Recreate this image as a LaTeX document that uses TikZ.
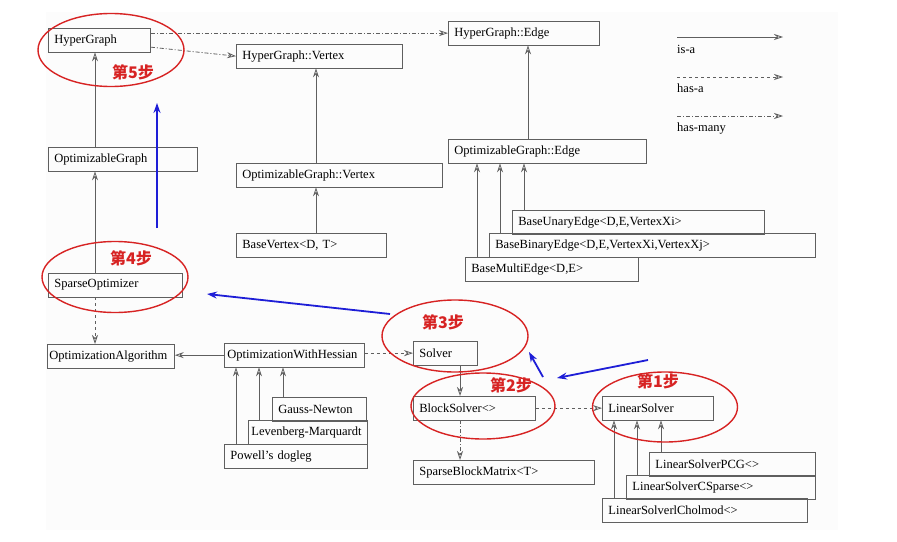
\documentclass[tikz,border=0pt]{standalone}
\usepackage{fontspec}
\setmainfont{Liberation Serif}
\newfontfamily\cjk{Noto Sans CJK SC}
\usetikzlibrary{arrows.meta,shapes.geometric}
\definecolor{umlgray}{RGB}{95,95,95}
\definecolor{stepred}{RGB}{215,35,35}
\definecolor{stepblue}{RGB}{30,30,215}
\definecolor{paper}{RGB}{252,252,252}

\tikzset{
  cls/.style={draw=umlgray, line width=0.8pt, anchor=north west, inner xsep=6pt,
    inner ysep=0pt, minimum height=23.5pt, align=left, font=\fontsize{12.5}{14}\selectfont},
  isa/.style={draw=umlgray, line width=0.8pt, -{Stealth[open,length=9pt,width=6pt,inset=3pt]}},
  hasa/.style={isa, dash pattern=on 3pt off 3pt},
  hasmany/.style={isa, dash pattern=on 4pt off 2pt on 1pt off 2pt},
  legendtext/.style={anchor=base west, inner sep=0pt, font=\fontsize{12.5}{14}\selectfont},
  stepring/.style={draw=stepred, line width=1.4pt, ellipse, inner sep=0pt},
  steplabel/.style={text=stepred, inner sep=0pt, font=\cjk\bfseries\fontsize{16}{18}\selectfont},
  flow/.style={draw=stepblue, line width=1.8pt, -{Stealth[length=10pt,width=7pt]}}
}

\begin{document}
\begin{tikzpicture}[x=1pt,y=-1pt]
  \useasboundingbox (0,0) rectangle (897,541);
  \fill[paper] (46,12) rectangle (838,530);

  % classes
  \node[cls, text width=90pt] (hg) at (48,28) {HyperGraph};
  \node[cls, text width=154pt] (hgv) at (236,44) {HyperGraph::Vertex};
  \node[cls, text width=139pt] (hge) at (448,21) {HyperGraph::Edge};
  \node[cls, text width=137pt] (og) at (48,147) {OptimizableGraph};
  \node[cls, text width=194pt] (ogv) at (236,163) {OptimizableGraph::Vertex};
  \node[cls, text width=186pt] (oge) at (448,139) {OptimizableGraph::Edge};
  \node[cls, text width=138pt] (bv) at (236,233) {BaseVertex<D, T>};
  \node[cls, text width=240pt] (bue) at (512,210) {BaseUnaryEdge<D,E,VertexXi>};
  \node[cls, text width=314pt] (bbe) at (489,233) {BaseBinaryEdge<D,E,VertexXi,VertexXj>};
  \node[cls, text width=161pt] (bme) at (465,257) {BaseMultiEdge<D,E>};
  \node[cls, text width=122pt] (so) at (48,273) {SparseOptimizer};
  \node[cls, inner xsep=2pt, text width=123pt] (oa) at (47,344) {OptimizationAlgorithm};
  \node[cls, inner xsep=3pt, text width=134pt] (owh) at (224,343) {OptimizationWithHessian};
  \node[cls, text width=82pt] (gn) at (272,397) {Gauss-Newton};
  \node[cls, inner xsep=3pt, text width=113pt] (lm) at (248,420) {Levenberg-Marquardt};
  \node[cls, text width=131pt] (pd) at (224,444) {Powell's dogleg};
  \node[cls, text width=52pt] (sv) at (413,341) {Solver};
  \node[cls, text width=110pt] (bs) at (413,396) {BlockSolver<>};
  \node[cls, text width=169pt] (sbm) at (413,460) {SparseBlockMatrix<T>};
  \node[cls, text width=99pt] (ls) at (602,396) {LinearSolver};
  \node[cls, text width=154pt] (lpcg) at (649,452) {LinearSolverPCG<>};
  \node[cls, text width=177pt] (lcs) at (626,475) {LinearSolverCSparse<>};
  \node[cls, text width=193pt] (lch) at (602,498) {LinearSolverlCholmod<>};

  % relations
  \draw[hasmany] (hge.west -| hg.east) -- (hge.west);
  \draw[hasmany] ([yshift=-7pt]hg.east) -- (hgv.west);
  \draw[isa] ([xshift=47pt]og.north west) -- ([xshift=47pt]hg.south west);
  \draw[isa] ([xshift=47pt]so.north west) -- ([xshift=47pt]og.south west);
  \draw[hasa] ([xshift=47pt]so.south west) -- ([xshift=48pt]oa.north west);
  \draw[isa] ([xshift=80pt]ogv.north west) -- ([xshift=80pt]hgv.south west);
  \draw[isa] ([xshift=80pt]bv.north west) -- ([xshift=80pt]ogv.south west);
  \draw[isa] ([xshift=80pt]oge.north west) -- ([xshift=80pt]hge.south west);
  \draw[isa] ([xshift=12pt]bme.north west) -- ([xshift=29pt]oge.south west);
  \draw[isa] ([xshift=11pt]bbe.north west) -- ([xshift=52pt]oge.south west);
  \draw[isa] ([xshift=12pt]bue.north west) -- ([xshift=76pt]oge.south west);
  \draw[isa] (owh.west) -- (owh.west -| oa.east);
  \draw[hasa] (sv.west -| owh.east) -- (sv.west);
  \draw[isa] ([xshift=12pt]pd.north west) -- ([xshift=12pt]owh.south west);
  \draw[isa] ([xshift=11pt]lm.north west) -- ([xshift=35pt]owh.south west);
  \draw[isa] ([xshift=11pt]gn.north west) -- ([xshift=59pt]owh.south west);
  \draw[isa] ([xshift=47pt]sv.south west) -- ([xshift=47pt]bs.north west);
  \draw[hasmany] ([xshift=47pt]bs.south west) -- ([xshift=47pt]sbm.north west);
  \draw[hasa] (bs.east) -- (ls.west);
  \draw[isa] ([xshift=12pt]lch.north west) -- ([xshift=12pt]ls.south west);
  \draw[isa] ([xshift=11pt]lcs.north west) -- ([xshift=35pt]ls.south west);
  \draw[isa] ([xshift=12pt]lpcg.north west) -- ([xshift=59pt]ls.south west);

  % legend
  \coordinate (isa0) at (677,37);
  \coordinate (isa1) at (783,37);
  \coordinate (hasa0) at (677,77);
  \coordinate (hasa1) at (783,77);
  \coordinate (many0) at (677,116);
  \coordinate (many1) at (783,116);
  \draw[isa] (isa0) -- (isa1);
  \draw[hasa] (hasa0) -- (hasa1);
  \draw[hasmany] (many0) -- (many1);
  \node[legendtext] (isalbl) at (677,53) {is-a};
  \node[legendtext] (hasalbl) at (677,92) {has-a};
  \node[legendtext] (manylbl) at (677,131) {has-many};

  % steps
  \node[stepring, minimum width=146pt, minimum height=73pt] (e5) at (111,50) {};
  \node[stepring, minimum width=146pt, minimum height=71pt] (e4) at (115,277) {};
  \node[stepring, minimum width=146pt, minimum height=72pt] (e3) at (455,336) {};
  \node[stepring, minimum width=144pt, minimum height=66pt] (e2) at (483,406) {};
  \node[stepring, minimum width=145pt, minimum height=70pt] (e1) at (665,407) {};
  \node[steplabel] (s5) at (133,72) {第5步};
  \node[steplabel] (s4) at (131,258) {第4步};
  \node[steplabel] (s3) at (443,322) {第3步};
  \node[steplabel] (s2) at (511,385) {第2步};
  \node[steplabel] (s1) at (658,381) {第1步};

  \coordinate (f1s) at (648,360);
  \coordinate (f1e) at (557,378);
  \coordinate (f2s) at (543,377);
  \coordinate (f2e) at (529,352);
  \coordinate (f3s) at (390,314);
  \coordinate (f3e) at (207,294);
  \coordinate (f4s) at (157,228);
  \coordinate (f4e) at (157,103);
  \draw[flow] (f1s) -- (f1e);
  \draw[flow] (f2s) -- (f2e);
  \draw[flow] (f3s) -- (f3e);
  \draw[flow] (f4s) -- (f4e);
\end{tikzpicture}
\end{document}
